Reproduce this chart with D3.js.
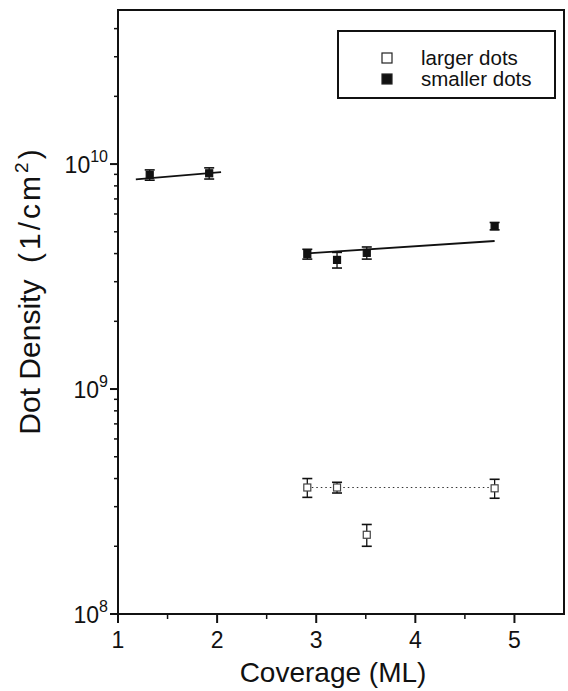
<html>
<head>
<script src="https://d3js.org/d3.v7.min.js"></script>
<style>
body { margin: 0; background: #fff; }
svg text { font-family: "Liberation Sans", Arial, sans-serif; fill: #111; }
</style>
</head>
<body>
<svg width="568" height="691"></svg>
<script>
// values
var smallX = [1.32, 1.92, 2.91, 3.21, 3.51, 4.80];
var smallY = [8.95e9, 9.1e9, 3.98e9, 3.75e9, 4.03e9, 5.3e9];
var smallErr = [0.47e9, 0.52e9, 0.2e9, 0.3e9, 0.25e9, 0.2e9];

var largeX = [2.91, 3.21, 3.51, 4.80];
var largeY = [3.65e8, 3.65e8, 2.25e8, 3.62e8];
var largeErr = [0.35e8, 0.2e8, 0.25e8, 0.35e8];

// fitted lines (end points)
var fitSmallA = [[1.18, 8.55e9], [2.04, 9.2e9]];
var fitSmallB = [[2.91, 4.01e9], [4.80, 4.55e9]];
var fitLarge = [[2.91, 3.65e8], [4.80, 3.65e8]];

var xTicks = [1, 2, 3, 4, 5];
var yDecades = [8, 9, 10];
var legendLabels = ["larger dots", "smaller dots"];

var svg = d3.select("svg");
// note: "top" is a reserved window property, so use plot* names
var plotLeft = 118, plotRight = 564, plotTop = 10, plotBottom = 614;

var x = d3.scaleLinear().domain([1, 5.5]).range([plotLeft, plotRight]);
var y = d3.scaleLog().domain([1e8, 4.84e10]).range([plotBottom, plotTop]);

// frame
svg.append("rect")
  .attr("x", plotLeft).attr("y", plotTop)
  .attr("width", plotRight - plotLeft).attr("height", plotBottom - plotTop)
  .attr("fill", "none").attr("stroke", "#111").attr("stroke-width", 2);

// x axis ticks
var xMinor = d3.range(1.5, 5.5, 1);
svg.selectAll(".xmaj").data(xTicks).enter().append("line")
  .attr("x1", x).attr("x2", x).attr("y1", plotBottom).attr("y2", plotBottom + 9)
  .attr("stroke", "#111").attr("stroke-width", 2);
svg.selectAll(".xmin").data(xMinor).enter().append("line")
  .attr("x1", x).attr("x2", x).attr("y1", plotBottom).attr("y2", plotBottom + 5)
  .attr("stroke", "#111").attr("stroke-width", 1.5);
svg.selectAll(".xlab").data(xTicks).enter().append("text")
  .attr("x", x).attr("y", plotBottom + 34)
  .attr("text-anchor", "middle").attr("font-size", 23)
  .text(function (d) { return d; });

// y axis ticks (log)
var yMinor = [];
yDecades.forEach(function (e) {
  for (var k = 2; k <= 9; k++) {
    var v = k * Math.pow(10, e);
    if (v <= y.domain()[1]) yMinor.push(v);
  }
});
svg.selectAll(".ymaj").data(yDecades).enter().append("line")
  .attr("x1", plotLeft - 8).attr("x2", plotLeft)
  .attr("y1", function (d) { return y(Math.pow(10, d)); })
  .attr("y2", function (d) { return y(Math.pow(10, d)); })
  .attr("stroke", "#111").attr("stroke-width", 2);
svg.selectAll(".ymin").data(yMinor).enter().append("line")
  .attr("x1", plotLeft - 4).attr("x2", plotLeft)
  .attr("y1", y).attr("y2", y)
  .attr("stroke", "#111").attr("stroke-width", 1.5);
var ylab = svg.selectAll(".ylab").data(yDecades).enter().append("text")
  .attr("x", plotLeft - 10)
  .attr("y", function (d) { return y(Math.pow(10, d)) + 9; })
  .attr("text-anchor", "end").attr("font-size", 23);
ylab.append("tspan").text("10");
ylab.append("tspan").attr("dy", -11).attr("font-size", 16).text(function (d) { return d; });

// axis titles
svg.append("text")
  .attr("x", 333).attr("y", 682)
  .attr("text-anchor", "middle").attr("font-size", 28)
  .text("Coverage (ML)");
var yt = svg.append("text")
  .attr("transform", "translate(40,292) rotate(-90)")
  .attr("text-anchor", "middle").attr("font-size", 30);
yt.append("tspan").text("Dot Density\u00a0\u00a0");
yt.append("tspan").attr("letter-spacing", 3).text("(1/cm");
yt.append("tspan").attr("dy", -12).attr("font-size", 19).text("2");
yt.append("tspan").attr("dy", 12).attr("dx", 3).text(")");

// fit lines
var line = d3.line().x(function (d) { return x(d[0]); }).y(function (d) { return y(d[1]); });
[fitSmallA, fitSmallB].forEach(function (f) {
  svg.append("path").attr("d", line(f))
    .attr("fill", "none").attr("stroke", "#111").attr("stroke-width", 1.8);
});
svg.append("path").attr("d", line(fitLarge))
  .attr("fill", "none").attr("stroke", "#333").attr("stroke-width", 1.2)
  .attr("stroke-dasharray", "1.5,3");

// error bars + markers
function drawSeries(xs, ys, errs, filled) {
  var g = svg.append("g");
  xs.forEach(function (xv, i) {
    var cx = x(xv), lo = y(ys[i] - errs[i]), hi = y(ys[i] + errs[i]);
    g.append("line").attr("x1", cx).attr("x2", cx).attr("y1", hi).attr("y2", lo)
      .attr("stroke", "#111").attr("stroke-width", 1.3);
    [hi, lo].forEach(function (yy) {
      g.append("line").attr("x1", cx - 5).attr("x2", cx + 5).attr("y1", yy).attr("y2", yy)
        .attr("stroke", "#111").attr("stroke-width", 1.6);
    });
    g.append("rect")
      .attr("x", cx - 3.5).attr("y", y(ys[i]) - 3.5)
      .attr("width", 7).attr("height", 7)
      .attr("fill", filled ? "#111" : "#fff")
      .attr("stroke", filled ? "#111" : "#444").attr("stroke-width", 1.2);
  });
}
drawSeries(smallX, smallY, smallErr, true);
drawSeries(largeX, largeY, largeErr, false);

// legend
svg.append("rect")
  .attr("x", 338).attr("y", 31).attr("width", 217).attr("height", 67)
  .attr("fill", "#fff").attr("stroke", "#111").attr("stroke-width", 2);
legendLabels.forEach(function (lab, i) {
  var ly = 58 + i * 21;
  svg.append("rect")
    .attr("x", 382).attr("y", ly - 5).attr("width", 10).attr("height", 10)
    .attr("fill", i === 0 ? "#fff" : "#111").attr("stroke", "#222").attr("stroke-width", 1.2);
  svg.append("text").attr("x", 421).attr("y", ly + 7)
    .attr("font-size", 20.5).text(lab);
});
</script>
</body>
</html>
